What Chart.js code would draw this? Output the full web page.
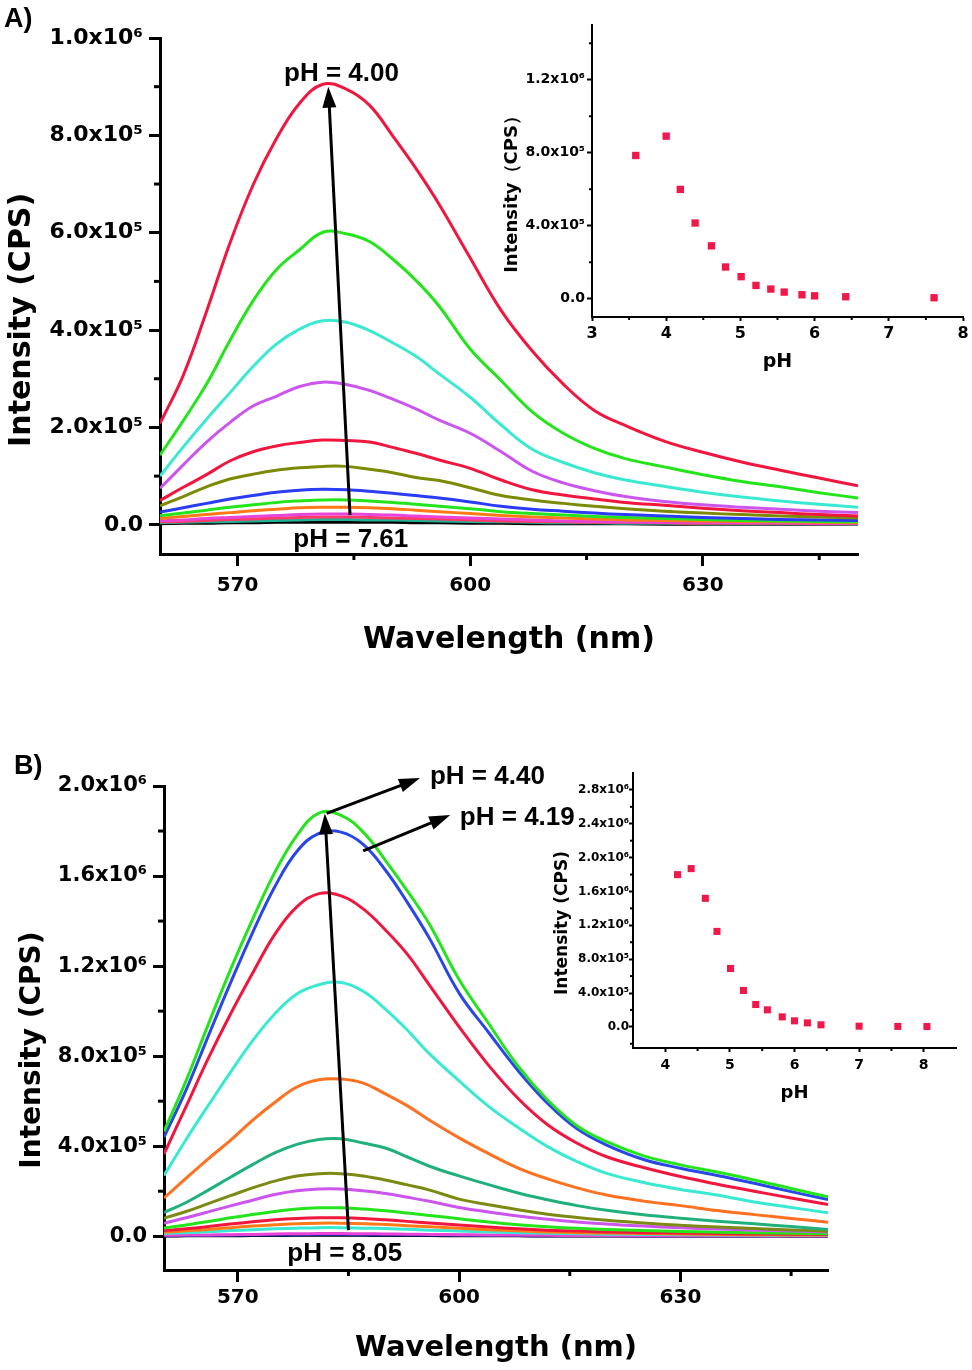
<!DOCTYPE html>
<html>
<head>
<meta charset="utf-8">
<script src="https://cdn.jsdelivr.net/npm/chart.js@4.4.1/dist/chart.umd.min.js"></script>
<style>
  body { margin: 0; background: #fff; }
  #page { position: relative; width: 972px; height: 1370px; overflow: hidden; background: #fff; }
  canvas { position: absolute; }
  .panel { position: absolute; font-family: 'Liberation Sans', Arial, sans-serif; font-weight: bold; font-size: 27px; line-height: 30px; }
</style>
</head>
<body>
<div id="page">
  <canvas id="mainA" width="972" height="660" style="left:0;top:0"></canvas>
  <canvas id="insetA" width="482" height="380" style="left:490px;top:0"></canvas>
  <canvas id="mainB" width="972" height="670" style="left:0;top:700px"></canvas>
  <canvas id="insetB" width="432" height="380" style="left:540px;top:740px"></canvas>
  <div class="panel" style="left:4px;top:3px">A)</div>
  <div class="panel" style="left:14px;top:750px">B)</div>
</div>
<script>
// wavelength grid shared by all spectra (nm)
const wavelengths = [560, 563, 566, 569, 572, 575, 578, 581, 584, 587, 590, 593, 596, 600, 604, 608, 612, 616, 620, 625, 630, 635, 640, 645, 650];

// panel A spectra, intensity in thousands of CPS
const specA400 = [208, 307, 438, 578, 698, 793, 866, 905, 895, 862, 799, 732, 658, 548, 440, 357, 289, 235, 204, 172, 149, 129, 112, 96, 80];
const specA419 = [143, 214, 289, 378, 460, 524, 565, 601, 598, 582, 546, 502, 449, 361, 296, 232, 188, 157, 136, 119, 103, 89, 78, 66, 55];
const specA439 = [100, 160, 217, 271, 325, 371, 402, 419, 416, 399, 374, 346, 310, 262, 205, 155, 128, 107, 92, 79, 67, 57, 49, 42, 36];
const specA461 = [75, 123, 170, 210, 244, 264, 284, 293, 288, 276, 258, 238, 215, 188, 150, 110, 86, 70, 58, 48, 41, 36, 32, 28, 25];
const specA480 = [50, 77, 103, 131, 150, 162, 169, 174, 173, 170, 159, 147, 133, 116, 92, 72, 61, 53, 46, 40, 34, 29, 25, 21, 18];
const specA501 = [39, 58, 78, 94, 104, 112, 117, 120, 120, 114, 107, 97, 91, 76, 60, 51, 44, 38, 33, 28, 24, 21, 18, 16, 14];
const specA521 = [26, 35, 44, 53, 60, 67, 71, 73, 72, 69, 65, 60, 55, 47, 38, 32, 28, 24, 21, 18, 15, 13, 11, 10, 9];
const specA541 = [19, 24, 30, 36, 41, 46, 49, 51, 51, 49, 46, 42, 38, 33, 27, 23, 20, 17, 15, 13, 11, 9, 8, 7, 6];
const specA559 = [13, 17, 21, 25, 29, 32, 35, 36, 36, 35, 33, 30, 27, 23, 19, 16, 14, 12, 10, 9, 8, 7, 6, 5, 4];
const specA583 = [8, 10, 13, 15, 17, 19, 21, 22, 22, 21, 20, 18, 16, 14, 12, 10, 8, 7, 6, 5, 5, 4, 4, 3, 3];
const specA600 = [6, 7, 9, 11, 12, 14, 15, 16, 16, 15, 14, 13, 12, 10, 8, 7, 6, 5, 5, 4, 3, 3, 3, 2, 2];
const specA642 = [4, 5, 6, 7, 8, 9, 10, 11, 11, 10, 10, 9, 8, 7, 6, 5, 4, 4, 3, 3, 2, 2, 2, 2, 1];
const specA761 = [2, 3, 3, 4, 4, 5, 5, 5, 5, 5, 5, 4, 4, 3, 3, 2, 2, 2, 2, 1, 1, 1, 1, 1, 1];

// panel B spectra, intensity in thousands of CPS
const specB440 = [465, 691, 941, 1183, 1407, 1615, 1780, 1880, 1870, 1795, 1670, 1533, 1385, 1140, 945, 755, 605, 490, 420, 357, 317, 285, 250, 212, 175];
const specB419 = [440, 650, 889, 1124, 1348, 1551, 1709, 1790, 1795, 1741, 1627, 1482, 1322, 1080, 905, 735, 590, 477, 405, 341, 302, 270, 235, 198, 163];
const specB461 = [365, 577, 790, 986, 1168, 1340, 1463, 1522, 1512, 1454, 1361, 1252, 1114, 930, 759, 612, 495, 413, 353, 305, 265, 231, 200, 170, 141];
const specB480 = [270, 430, 581, 728, 868, 987, 1076, 1117, 1127, 1088, 1009, 915, 810, 690, 577, 483, 398, 331, 279, 239, 208, 183, 152, 128, 104];
const specB501 = [170, 258, 344, 426, 515, 594, 663, 695, 698, 680, 632, 579, 515, 437, 367, 303, 255, 215, 183, 156, 136, 114, 96, 79, 62];
const specB521 = [105, 150, 205, 262, 318, 370, 408, 430, 433, 414, 392, 352, 311, 268, 229, 192, 162, 136, 115, 95, 80, 67, 55, 43, 30];
const specB540 = [80, 110, 145, 180, 215, 245, 268, 278, 278, 268, 250, 228, 205, 165, 140, 118, 98, 83, 71, 59, 49, 41, 34, 28, 22];
const specB558 = [58, 82, 108, 135, 160, 185, 202, 210, 210, 202, 190, 173, 155, 128, 108, 90, 75, 63, 54, 45, 38, 32, 27, 23, 19];
const specB581 = [36, 50, 65, 82, 97, 110, 121, 126, 126, 121, 113, 103, 92, 78, 63, 51, 42, 35, 30, 25, 21, 18, 15, 13, 11];
const specB600 = [25, 33, 43, 54, 64, 73, 79, 82, 82, 79, 73, 66, 59, 50, 41, 33, 27, 23, 19, 16, 14, 12, 10, 9, 8];
const specB620 = [18, 24, 30, 38, 45, 51, 56, 58, 58, 56, 52, 47, 42, 35, 29, 24, 19, 16, 14, 12, 10, 8, 7, 6, 5];
const specB641 = [12, 16, 20, 25, 29, 33, 36, 38, 38, 36, 34, 31, 27, 23, 19, 16, 13, 11, 9, 8, 7, 6, 5, 4, 4];
const specB700 = [4, 5, 6, 7, 8, 10, 11, 12, 12, 11, 10, 9, 8, 7, 6, 5, 4, 3, 3, 2, 2, 2, 2, 1, 1];
const specB760 = [2, 3, 3, 4, 5, 6, 6, 7, 7, 6, 6, 5, 5, 4, 3, 3, 2, 2, 2, 1, 1, 1, 1, 1, 1];
const specB805 = [1, 2, 2, 2, 3, 3, 4, 4, 4, 4, 3, 3, 3, 2, 2, 2, 1, 1, 1, 1, 1, 1, 1, 0, 0];

// insets: peak intensity vs pH
const insetPhA = [3.59, 4.00, 4.19, 4.39, 4.61, 4.80, 5.01, 5.21, 5.41, 5.59, 5.83, 6.00, 6.42, 7.61];
const insetIntA = [785000, 891000, 599000, 415000, 290000, 174000, 121000, 73000, 53000, 36500, 22000, 16000, 11000, 5500];
const insetPhB = [4.19, 4.40, 4.62, 4.80, 5.01, 5.21, 5.40, 5.58, 5.81, 6.00, 6.20, 6.41, 7.00, 7.60, 8.05];
const insetIntB = [1799000, 1870000, 1519000, 1128000, 690000, 430000, 264000, 201000, 118000, 71000, 47000, 24000, 8000, 5000, 4000];

// axis ticks
const xTicksMain = [570, 600, 630];
const xMinorMain = [585, 615, 645];
const yTicksA = [0, 200000, 400000, 600000, 800000, 1000000];
const yLabelsA = ['0.0', '2.0x10⁵', '4.0x10⁵', '6.0x10⁵', '8.0x10⁵', '1.0x10⁶'];
const yMinorA = [100000, 300000, 500000, 700000, 900000];
const yTicksB = [0, 400000, 800000, 1200000, 1600000, 2000000];
const yLabelsB = ['0.0', '4.0x10⁵', '8.0x10⁵', '1.2x10⁶', '1.6x10⁶', '2.0x10⁶'];
const yMinorB = [200000, 600000, 1000000, 1400000, 1800000];
const xTicksInsetA = [3, 4, 5, 6, 7, 8];
const xMinorInsetA = [3.5, 4.5, 5.5, 6.5, 7.5];
const yTicksInsetA = [0, 400000, 800000, 1200000];
const yLabelsInsetA = ['0.0', '4.0x10⁵', '8.0x10⁵', '1.2x10⁶'];
const yMinorInsetA = [200000, 600000, 1000000, 1400000];
const xTicksInsetB = [4, 5, 6, 7, 8];
const xMinorInsetB = [4.5, 5.5, 6.5, 7.5];
const yTicksInsetB = [0, 400000, 800000, 1200000, 1600000, 2000000, 2400000, 2800000];
const yLabelsInsetB = ['0.0', '4.0x10⁵', '8.0x10⁵', '1.2x10⁶', '1.6x10⁶', '2.0x10⁶', '2.4x10⁶', '2.8x10⁶'];
const yMinorInsetB = [-200000, 200000, 600000, 1000000, 1400000, 1800000, 2200000, 2600000];

// annotations, in data units (nm, CPS)
const arrowsA = [{ from: [584.5, 20000], to: [581.7, 900000] }];
const notesA = [
  { text: 'pH = 4.00', x: 583.4, y: 926000, align: 'center' },
  { text: 'pH = 7.61', x: 584.6, y: -31000, align: 'center' },
];
const arrowsB = [
  { from: [585.0, 27500], to: [581.8, 1878000] },
  { from: [582.05, 1878000], to: [594.7, 2035000] },
  { from: [587.0, 1712000], to: [598.8, 1871000] },
];
const notesB = [
  { text: 'pH = 4.40', x: 596.05, y: 2040000, align: 'left' },
  { text: 'pH = 4.19', x: 600.1, y: 1858000, align: 'left' },
  { text: 'pH = 8.05', x: 584.5, y: -79000, align: 'center' },
];

Chart.defaults.font.family = "'DejaVu Sans', sans-serif";
Chart.defaults.color = '#000';

function toPoints(values) {
  return wavelengths.map((w, i) => ({ x: w, y: values[i] * 1000 }));
}

function spectrum(values, color) {
  return {
    data: toPoints(values),
    borderColor: color,
    borderWidth: 3,
    pointRadius: 0,
    fill: false,
    tension: 0.4,
  };
}

// minor ticks, y titles, arrows and text notes drawn through the chart scales
function extras(cfg) {
  return {
    id: 'extras',
    afterDraw(chart) {
      const { ctx, scales: { x, y } } = chart;
      ctx.save();
      ctx.strokeStyle = '#000';
      ctx.fillStyle = '#000';
      ctx.lineWidth = cfg.tickWidth;
      cfg.minorX.forEach((v) => {
        const px = x.getPixelForValue(v);
        ctx.beginPath();
        ctx.moveTo(px, x.top);
        ctx.lineTo(px, x.top + cfg.minorLen);
        ctx.stroke();
      });
      cfg.minorY.forEach((v) => {
        const py = y.getPixelForValue(v);
        ctx.beginPath();
        ctx.moveTo(y.right, py);
        ctx.lineTo(y.right - cfg.minorLen, py);
        ctx.stroke();
      });
      if (cfg.yTitle) {
        const t = cfg.yTitle;
        ctx.save();
        ctx.translate(t.x, y.getPixelForValue(t.v));
        ctx.rotate(-Math.PI / 2);
        ctx.font = `bold ${t.size}px 'DejaVu Sans', sans-serif`;
        ctx.textAlign = 'center';
        ctx.textBaseline = 'middle';
        ctx.fillText(t.text, 0, 0);
        ctx.restore();
      }
      (cfg.arrows || []).forEach((a) => {
        const x0 = x.getPixelForValue(a.from[0]);
        const y0 = y.getPixelForValue(a.from[1]);
        const x1 = x.getPixelForValue(a.to[0]);
        const y1 = y.getPixelForValue(a.to[1]);
        const ang = Math.atan2(y1 - y0, x1 - x0);
        const c = Math.cos(ang);
        const s = Math.sin(ang);
        const hl = 21;
        const hw = 7;
        ctx.lineWidth = 3;
        ctx.beginPath();
        ctx.moveTo(x0, y0);
        ctx.lineTo(x1 - hl * 0.8 * c, y1 - hl * 0.8 * s);
        ctx.stroke();
        ctx.beginPath();
        ctx.moveTo(x1, y1);
        ctx.lineTo(x1 - hl * c + hw * s, y1 - hl * s - hw * c);
        ctx.lineTo(x1 - hl * c - hw * s, y1 - hl * s + hw * c);
        ctx.closePath();
        ctx.fill();
      });
      ctx.font = "bold 26px 'Liberation Sans', Arial, sans-serif";
      ctx.textBaseline = 'middle';
      (cfg.notes || []).forEach((n) => {
        ctx.textAlign = n.align;
        ctx.fillText(n.text, x.getPixelForValue(n.x), y.getPixelForValue(n.y));
      });
      ctx.restore();
    },
  };
}

function axis(o) {
  return {
    type: 'linear',
    min: o.min,
    max: o.max,
    afterBuildTicks: (s) => { s.ticks = o.ticks.map((v) => ({ value: v })); },
    afterFit: (s) => { if (o.width) s.width = o.width; if (o.height) s.height = o.height; },
    grid: {
      display: true,
      drawOnChartArea: false,
      drawTicks: true,
      tickLength: o.tickLength,
      tickWidth: o.border,
      tickColor: '#000',
    },
    border: { display: true, width: o.border, color: '#000' },
    ticks: {
      autoSkip: false,
      maxRotation: 0,
      color: '#000',
      padding: o.pad,
      font: { size: o.fontSize, weight: 'bold' },
      callback: (v, i) => (o.labels ? o.labels[i] : String(v)),
    },
    title: {
      display: Boolean(o.title),
      text: o.title,
      color: '#000',
      font: { size: o.titleSize, weight: 'bold' },
      padding: o.titlePad,
    },
  };
}

new Chart(document.getElementById('mainA'), {
  type: 'line',
  data: {
    datasets: [
      spectrum(specA400, '#f0163e'),
      spectrum(specA419, '#24e41c'),
      spectrum(specA439, '#3ae9d2'),
      spectrum(specA461, '#cc55ee'),
      spectrum(specA480, '#f0163e'),
      spectrum(specA501, '#7c8a06'),
      spectrum(specA521, '#2a3cf4'),
      spectrum(specA541, '#24e41c'),
      spectrum(specA559, '#ff7a16'),
      spectrum(specA583, '#e845d8'),
      spectrum(specA600, '#ff3a66'),
      spectrum(specA642, '#1fb296'),
      spectrum(specA761, '#000000'),
    ],
  },
  options: {
    responsive: false,
    animation: false,
    layout: { padding: { left: 0, right: 114, top: 38, bottom: 0 } },
    plugins: { legend: { display: false }, tooltip: { enabled: false } },
    scales: {
      x: axis({
        min: 560, max: 650, ticks: xTicksMain, height: 106, tickLength: 12, border: 3,
        pad: 8, fontSize: 20, title: 'Wavelength (nm)', titleSize: 30, titlePad: { top: 0, bottom: 2 },
      }),
      y: axis({
        min: -60000, max: 1000000, ticks: yTicksA, labels: yLabelsA, width: 160, tickLength: 11, border: 3,
        pad: 6, fontSize: 22,
      }),
    },
  },
  plugins: [extras({
    minorX: xMinorMain, minorY: yMinorA, minorLen: 6, tickWidth: 3, arrows: arrowsA, notes: notesA,
    yTitle: { text: 'Intensity (CPS)', size: 30, x: 22, v: 421000 },
  })],
});

new Chart(document.getElementById('insetA'), {
  type: 'scatter',
  data: {
    datasets: [{
      data: insetPhA.map((p, i) => ({ x: p, y: insetIntA[i] })),
      pointStyle: 'rect',
      pointRadius: 5.2,
      pointBorderWidth: 0,
      backgroundColor: '#f0184a',
      pointBackgroundColor: '#f0184a',
    }],
  },
  options: {
    responsive: false,
    animation: false,
    layout: { padding: { left: 0, right: 9, top: 25, bottom: 0 } },
    plugins: { legend: { display: false }, tooltip: { enabled: false } },
    scales: {
      x: axis({
        min: 3, max: 8, ticks: xTicksInsetA, height: 63, tickLength: 4, border: 2,
        pad: 3, fontSize: 16, title: 'pH', titleSize: 19, titlePad: { top: 0, bottom: 7 },
      }),
      y: axis({
        min: -100000, max: 1500000, ticks: yTicksInsetA, labels: yLabelsInsetA, width: 102, tickLength: 5, border: 2,
        pad: 2, fontSize: 14,
      }),
    },
  },
  plugins: [extras({
    minorX: xMinorInsetA, minorY: yMinorInsetA, minorLen: 3, tickWidth: 2,
    yTitle: { text: 'Intensity（CPS）', size: 18, x: 22, v: 596000 },
  })],
});

new Chart(document.getElementById('mainB'), {
  type: 'line',
  data: {
    datasets: [
      spectrum(specB440, '#24e41c'),
      spectrum(specB419, '#2a46e8'),
      spectrum(specB461, '#f0163e'),
      spectrum(specB480, '#3ae9d2'),
      spectrum(specB501, '#ff7020'),
      spectrum(specB521, '#20b07c'),
      spectrum(specB540, '#7c8a14'),
      spectrum(specB558, '#cc55ee'),
      spectrum(specB581, '#24e41c'),
      spectrum(specB600, '#f0163e'),
      spectrum(specB620, '#ff7a16'),
      spectrum(specB641, '#3ae9d2'),
      spectrum(specB700, '#e845d8'),
      spectrum(specB760, '#1a2a9a'),
      spectrum(specB805, '#000000'),
    ],
  },
  options: {
    responsive: false,
    animation: false,
    layout: { padding: { left: 0, right: 144, top: 86, bottom: 0 } },
    plugins: { legend: { display: false }, tooltip: { enabled: false } },
    scales: {
      x: axis({
        min: 560, max: 650, ticks: xTicksMain, height: 100, tickLength: 12, border: 3,
        pad: 4, fontSize: 20, title: 'Wavelength (nm)', titleSize: 29, titlePad: { top: 0, bottom: 4 },
      }),
      y: axis({
        min: -150000, max: 2000000, ticks: yTicksB, labels: yLabelsB, width: 164, tickLength: 11, border: 3,
        pad: 6, fontSize: 21,
      }),
    },
  },
  plugins: [extras({
    minorX: xMinorMain, minorY: yMinorB, minorLen: 6, tickWidth: 3, arrows: arrowsB, notes: notesB,
    yTitle: { text: 'Intensity (CPS)', size: 28, x: 33, v: 827000 },
  })],
});

new Chart(document.getElementById('insetB'), {
  type: 'scatter',
  data: {
    datasets: [{
      data: insetPhB.map((p, i) => ({ x: p, y: insetIntB[i] })),
      pointStyle: 'rect',
      pointRadius: 5,
      pointBorderWidth: 0,
      backgroundColor: '#f0184a',
      pointBackgroundColor: '#f0184a',
    }],
  },
  options: {
    responsive: false,
    animation: false,
    layout: { padding: { left: 0, right: 16, top: 33, bottom: 0 } },
    plugins: { legend: { display: false }, tooltip: { enabled: false } },
    scales: {
      x: axis({
        min: 3.5, max: 8.5, ticks: xTicksInsetB, height: 72, tickLength: 4, border: 2,
        pad: 5, fontSize: 14, title: 'pH', titleSize: 18, titlePad: { top: 0, bottom: 16 },
      }),
      y: axis({
        min: -250000, max: 3000000, ticks: yTicksInsetB, labels: yLabelsInsetB, width: 93, tickLength: 4, border: 2,
        pad: 0, fontSize: 12,
      }),
    },
  },
  plugins: [extras({
    minorX: xMinorInsetB, minorY: yMinorInsetB, minorLen: 3, tickWidth: 2,
    yTitle: { text: 'Intensity (CPS)', size: 17, x: 23, v: 1227000 },
  })],
});
</script>
</body>
</html>
